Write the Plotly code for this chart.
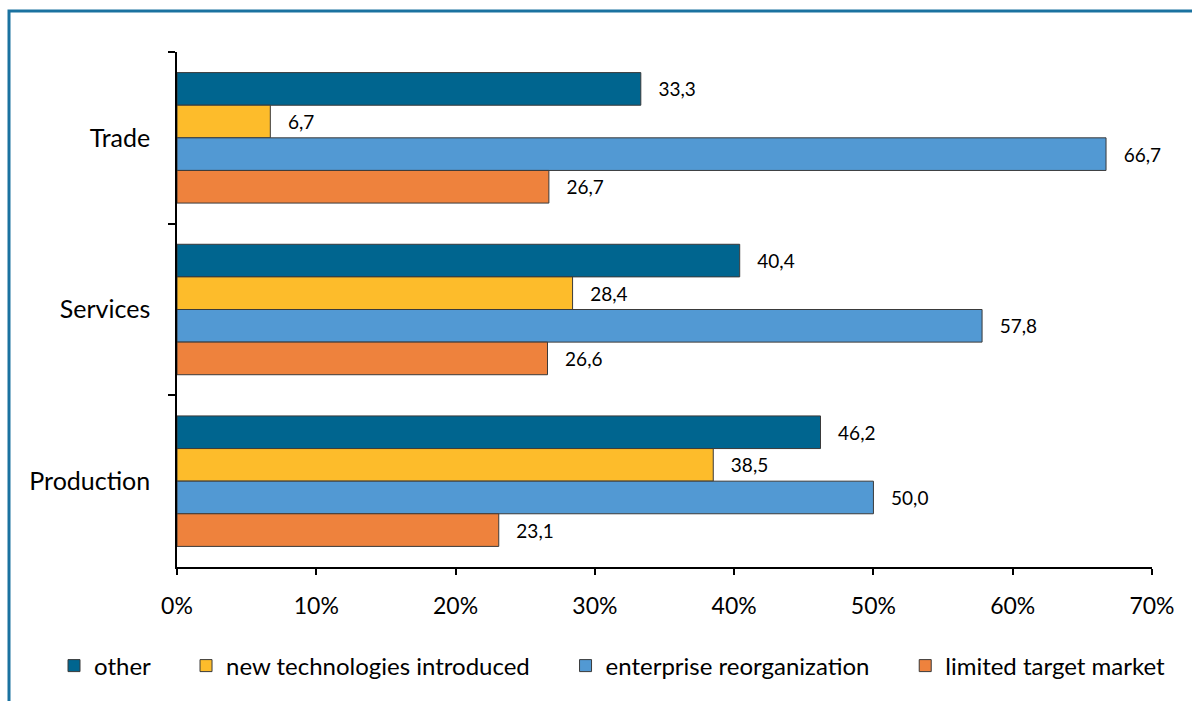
import plotly.graph_objects as go

# Sectors (top to bottom) and share of enterprises per reason, %
sectors = ["Trade", "Services", "Production"]
series_names = ["other", "new technologies introduced",
                "enterprise reorganization", "limited target market"]
other = [33.3, 40.4, 46.2]
new_tech = [6.7, 28.4, 38.5]
reorganization = [66.7, 57.8, 50.0]
limited_market = [26.7, 26.6, 23.1]
x_ticks = [0, 10, 20, 30, 40, 50, 60, 70]
x_tick_labels = ["0%", "10%", "20%", "30%", "40%", "50%", "60%", "70%"]

colors = ["#00658F", "#FDBC2B", "#5299D3", "#EE823D"]
FONT = "Lato"

fig = go.Figure()
n_series = len(series_names)
for i, (name, vals, col) in enumerate(zip(series_names,
                                          [other, new_tech, reorganization, limited_market],
                                          colors)):
    # pad legend entries with spaces to widen the gap to the next entry
    label = name if i == n_series - 1 else name + "     "
    fig.add_trace(go.Bar(
        y=sectors, x=vals, name=label, orientation="h",
        marker=dict(color=col, line=dict(color="#3a3a3a", width=1)),
        text=["   " + f"{v:.1f}".replace(".", ",") for v in vals],
        textposition="outside", cliponaxis=False,
        textfont=dict(family=FONT, size=19, color="black"),
    ))

L, R, T, B = 177, 40, 52, 134
W, H = 1192, 701
pw, ph = W - L - R, H - T - B

fig.update_layout(
    width=W, height=H,
    margin=dict(l=L, r=R, t=T, b=B, autoexpand=False),
    paper_bgcolor="white", plot_bgcolor="white",
    barmode="group", bargap=0.24, bargroupgap=0.0,
    font=dict(family=FONT, size=23, color="black"),
    legend=dict(orientation="h", x=(54 - L) / pw, xanchor="left",
                y=-(666 - (H - B)) / ph, yanchor="middle",
                font=dict(family=FONT, size=24),
                itemwidth=30, tracegroupgap=0, borderwidth=0),
    xaxis=dict(range=[0, 70], tickvals=x_ticks, ticktext=x_tick_labels,
               showgrid=False, zeroline=False, showline=True,
               linecolor="black", linewidth=1.5, ticks="outside",
               ticklen=6, tickwidth=1.5, tickcolor="black",
               ticklabelstandoff=12, tickfont=dict(size=23),
               automargin=False),
    yaxis=dict(range=[2.5, -0.5], showgrid=False, zeroline=False,
               showline=True, linecolor="black", linewidth=1.5,
               ticks="outside", tickson="boundaries", ticklen=7,
               tickwidth=1.5, tickcolor="black",
               ticklabelstandoff=20, tickfont=dict(size=25),
               automargin=False),
)

# Blue frame along the top and left edge of the figure
x0 = (9 - L) / pw
y_top = 1 + (T - 11) / ph
y_bot = -(B + 5) / ph
fig.add_shape(type="path", xref="paper", yref="paper",
              path=f"M {x0} {y_bot} L {x0} {y_top} L {1 + (R + 5) / pw} {y_top}",
              line=dict(color="#1A72A0", width=3))

fig.write_html("out.html")
